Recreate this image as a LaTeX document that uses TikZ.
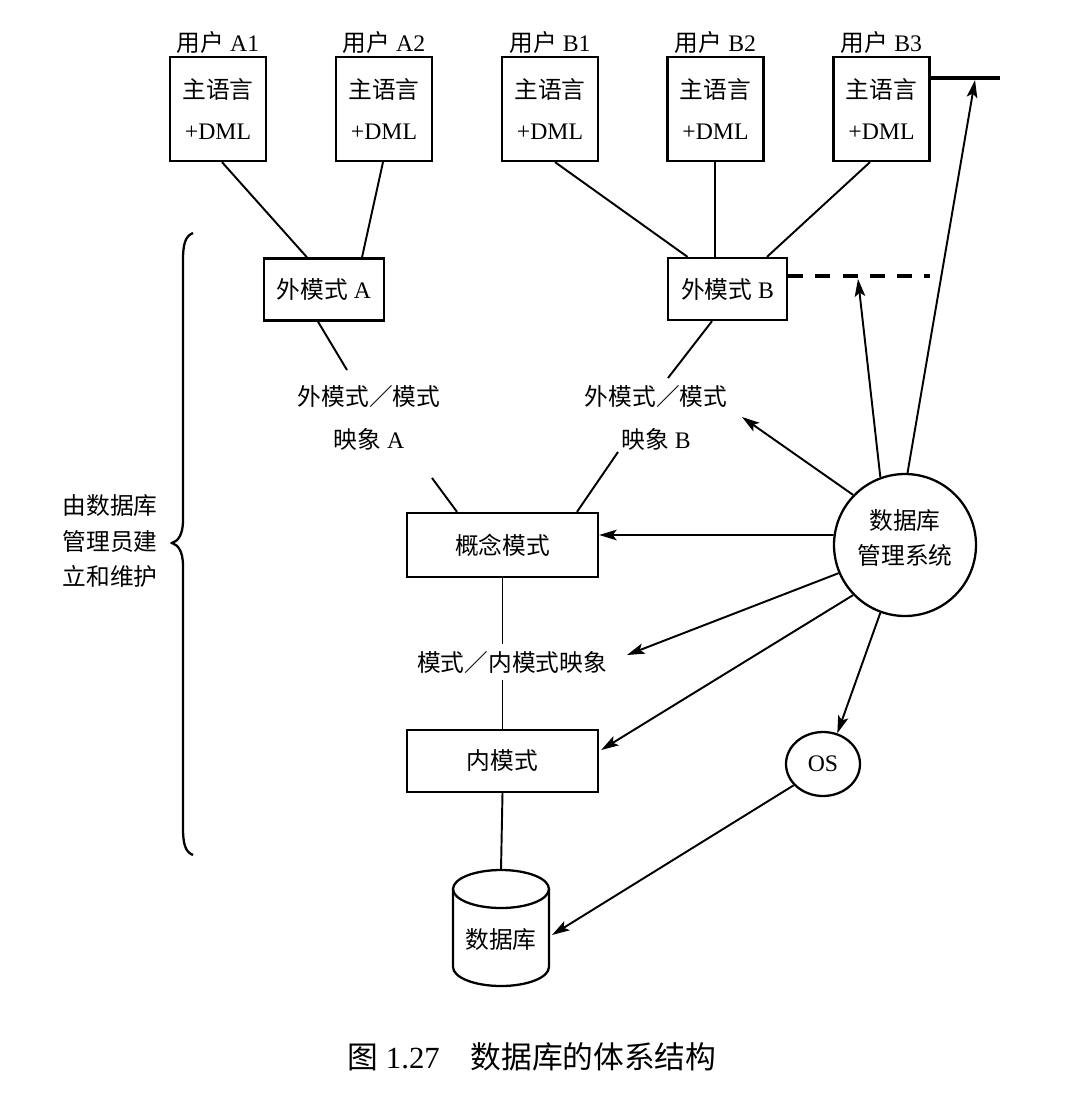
\documentclass[tikz,border=0pt]{standalone}
\usepackage{fontspec}
\setmainfont{Liberation Serif}
\newfontfamily\cjk{Noto Sans CJK SC}
\usetikzlibrary{arrows.meta,calc,shapes.geometric}
\newcommand\zh[1]{{\cjk #1}}
\begin{document}
\begin{tikzpicture}[x=0.02cm,y=-0.02cm,
  txt/.style={font=\fontsize{13.5}{16}\selectfont, inner sep=0pt},
  ubox/.style={draw, line width=1.3pt, minimum width=1.92cm, minimum height=2.08cm, align=center, inner sep=0pt, font=\fontsize{13.5}{23.2}\selectfont},
  sbox/.style={draw, line width=1.3pt, minimum height=1.24cm, inner sep=0pt, font=\fontsize{13.5}{16}\selectfont},
  conn/.style={line width=1.1pt},
  arr/.style={line width=1.1pt, -{Stealth[length=10pt,width=6pt,inset=2.2pt]}},
  thickline/.style={line width=2pt},
]
\useasboundingbox (0,0) rectangle (1080,1119);

% users
\node[txt] (la1) at (218,42) {\zh{用户} A1};
\node[txt] (la2) at (384,42) {\zh{用户} A2};
\node[txt] (lb1) at (550,42) {\zh{用户} B1};
\node[txt] (lb2) at (715.5,42) {\zh{用户} B2};
\node[txt] (lb3) at (881.5,42) {\zh{用户} B3};

\node[ubox] (a1) at (218,109) {\zh{主语言}\\+DML};
\node[ubox] (a2) at (384,109) {\zh{主语言}\\+DML};
\node[ubox] (b1) at (550,109) {\zh{主语言}\\+DML};
\node[ubox] (b2) at (715.5,109) {\zh{主语言}\\+DML};
\node[ubox] (b3) at (881.5,109) {\zh{主语言}\\+DML};

% schemas
\node[sbox, minimum width=2.4cm] (exta) at (324,289.5) {\zh{外模式} A};
\node[sbox, minimum width=2.38cm] (extb) at (727.5,289) {\zh{外模式} B};
\node[sbox, minimum width=3.82cm, minimum height=1.28cm] (concept) at (502.5,545) {\zh{概念模式}};
\node[sbox, minimum width=3.82cm] (inner) at (502.5,761) {\zh{内模式}};

% mapping labels
\node[txt, align=center, font=\fontsize{13.5}{24.4}\selectfont] (mapa) at (369,418) {\zh{外模式／模式}\\\zh{映象} A};
\node[txt, align=center, font=\fontsize{13.5}{24.4}\selectfont] (mapb) at (656,418) {\zh{外模式／模式}\\\zh{映象} B};
\node[txt, minimum height=0.7cm] (mm) at (512,662) {\zh{模式／内模式映象}};

% DBMS and OS
\node[draw, circle, line width=1.3pt, minimum size=2.84cm, inner sep=0pt, align=center, text depth=9pt, font=\fontsize{13.5}{20}\selectfont] (dbms) at (905,545) {\zh{数据库}\\\zh{管理系统}};
\node[draw, ellipse, line width=1.3pt, minimum width=1.48cm, minimum height=1.28cm, inner sep=0pt, font=\fontsize{13.5}{16}\selectfont] (os) at (823,764) {OS};

% database cylinder
\node[txt] (db) at (501,940) {\zh{数据库}};
\draw[line width=1.3pt] ($(db.center)+(0,-51)$) ellipse [x radius=0.96cm, y radius=0.38cm];
\draw[line width=1.3pt] ($(db.center)+(-48,-51)$) -- ($(db.center)+(-48,27)$) arc[start angle=180, end angle=360, x radius=0.96cm, y radius=0.38cm] -- ($(db.center)+(48,-51)$);
\coordinate (dbtop) at ($(db.center)+(0,-70)$);
\coordinate (dbright) at ($(db.center)+(51,-5)$);

% brace and its label
\node[txt, align=left, font=\fontsize{13.5}{20.4}\selectfont] (admin) at (110,541) {\zh{由数据库}\\\zh{管理员建}\\\zh{立和维护}};
\draw[line width=1.3pt] (193,233) .. controls (185,236) and (183,245) .. (183,260) -- (183,520)
  .. controls (183,535) and (178,541) .. (172,543) .. controls (178,545) and (183,551) .. (183,566)
  -- (183,828) .. controls (183,843) and (185,852) .. (193,855);

% caption
\node[font=\fontsize{17.5}{20}\selectfont, inner sep=0pt] (cap) at (532,1057) {\zh{图} 1.27\zh{　数据库的体系结构}};

% connectors
\draw[conn] ($(a1.south)+(4,0)$) -- ($(exta.north)+(-17,0)$);
\draw[conn] ($(a2.south)+(-1,0)$) -- ($(exta.north)+(38,0)$);
\draw[conn] ($(b1.south)+(5,0)$) -- ($(extb.north)+(-40,0)$);
\draw[conn] ($(b2.south)+(-0.5,0)$) -- ($(extb.north)+(-12.5,0)$);
\draw[conn] ($(b3.south)+(-11.5,0)$) -- ($(extb.north)+(39.5,0)$);

\draw[conn] ($(exta.south)+(-6,0)$) -- ($(mapa.center)+(-22,-48)$);
\draw[conn] ($(mapa.center)+(63,60)$) -- ($(concept.north)+(-45.5,0)$);
\draw[conn] ($(extb.south)+(-15.5,0)$) -- ($(mapb.center)+(12,-40)$);
\draw[conn] ($(mapb.center)+(-38,34)$) -- ($(concept.north)+(74.5,0)$);
\draw[conn] (concept.south) -- (concept.south |- mm.north);
\draw[conn] (concept.south |- mm.south) -- (inner.north);
\draw[conn] (inner.south) -- (dbtop);

% B3 solid line and dashed line
\coordinate (b3end) at (1000,78);
\draw[thickline] (b3.east |- b3end) -- (b3end);
\coordinate (dashend) at (930,276);
\draw[thickline, dash pattern=on 8.5pt off 7pt] (extb.east |- dashend) -- (dashend);

% DBMS arrows
\coordinate (b3tip) at (975,80);
\coordinate (dashtip) at (858,279);
\draw[arr] (dbms.88) -- (b3tip);
\draw[arr] (dbms.110) -- (dashtip);
\draw[arr] (dbms.136) -- ($(mapb.center)+(86,-1)$);
\draw[arr] (dbms.172) -- ($(concept.east)+(0,-10)$);
\draw[arr] (dbms.203) -- ($(mm.center)+(115,-7)$);
\draw[arr] (dbms.224) -- ($(inner.east)+(2,-11)$);
\draw[arr] (dbms.250) -- (os.65);
\draw[arr] (os.216) -- (dbright);
\end{tikzpicture}
\end{document}
